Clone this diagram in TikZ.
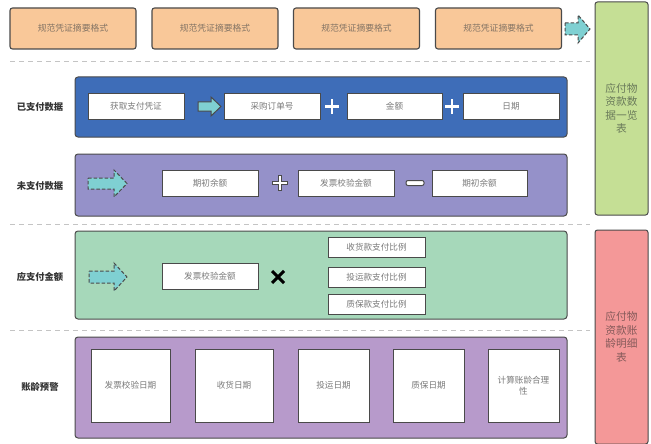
\documentclass[tikz,border=0pt]{standalone}
\usepackage{fontspec}
\setmainfont{Noto Sans CJK SC}
\begin{document}
\begin{tikzpicture}[x=1pt,y=-1pt,
  orangebox/.style={draw=edge,fill=orangef,line width=1.1pt,rounded corners=2.5pt,minimum width=126pt,minimum height=41pt,font=\fontsize{8.8}{10}\selectfont,text=orangetxt},
  panel/.style={draw=edge,line width=1pt,rounded corners=3pt},
  wbox/.style={draw=edge,fill=white,line width=1pt,font=\fontsize{8.6}{11}\selectfont,text=graytxt,inner sep=0pt},
  lbl/.style={font=\fontsize{9.3}{11}\selectfont\bfseries,text=labeltxt},
  sep/.style={draw=sepgray,line width=1pt,dash pattern=on 5pt off 4pt},
  arr/.style={draw=edge,fill=tealf,line width=1pt,line join=miter},
  darr/.style={arr,dash pattern=on 3.5pt off 2pt},
  side/.style={draw=edge,line width=1pt,rounded corners=2.5pt,align=center,font=\fontsize{10.7}{13.5}\selectfont},
]
\definecolor{edge}{HTML}{4A4A4A}
\definecolor{orangef}{HTML}{F9C899}
\definecolor{orangetxt}{HTML}{857565}
\definecolor{graytxt}{HTML}{7A7A7A}
\definecolor{labeltxt}{HTML}{333333}
\definecolor{sepgray}{HTML}{C4C4C4}
\definecolor{tealf}{HTML}{7FD0D2}
\definecolor{bluef}{HTML}{3E6DB8}
\definecolor{purplef}{HTML}{9591C9}
\definecolor{greenf}{HTML}{A6D8BA}
\definecolor{lavf}{HTML}{B79ACB}
\definecolor{sidegreen}{HTML}{C5DF95}
\definecolor{sidered}{HTML}{F49898}
\definecolor{sidetxtg}{HTML}{6A7A5A}
\definecolor{sidetxtr}{HTML}{855A5A}
\useasboundingbox[fill=white] (0,0) rectangle (651,444);

% top orange boxes
\node[orangebox] (o1) at (73,28.5) {规范凭证摘要格式};
\node[orangebox] (o2) at (215,28.5) {规范凭证摘要格式};
\node[orangebox] (o3) at (356.5,28.5) {规范凭证摘要格式};
\node[orangebox] (o4) at (498.5,28.5) {规范凭证摘要格式};
\draw[darr] (565,23) -- (578,23) -- (578,15) -- (590,29) -- (578,43) -- (578,35) -- (565,35) -- cycle;

% separators
\draw[sep] (10,62) -- (590,62);
\draw[sep] (10,224) -- (590,224);
\draw[sep] (10,330) -- (590,330);

% side boxes
\node[side,fill=sidegreen,text=sidetxtg,minimum width=53pt,minimum height=213pt] (sg) at (621.5,108.5) {应付物\\资款数\\据一览\\表};
\node[side,fill=sidered,text=sidetxtr,minimum width=53pt,minimum height=214pt] (sr) at (621.5,337) {应付物\\资款账\\龄明细\\表};

% blue panel
\draw[panel,fill=bluef] (75,77) rectangle (567,137);
\node[lbl] (l1) at (40,106.5) {已支付数据};
\node[wbox,minimum width=96pt,minimum height=25pt] (b1) at (136,106.5) {获取支付凭证};
\draw[arr] (198,102) -- (211,102) -- (211,97) -- (221,106.5) -- (211,116) -- (211,111) -- (198,111) -- cycle;
\node[wbox,minimum width=96pt,minimum height=25pt] (b2) at (272,106.5) {采购订单号};
\draw[white,line width=2.2pt] (325,106.5) -- (339,106.5) (332,99.5) -- (332,113.5);
\node[wbox,minimum width=95pt,minimum height=25pt] (b3) at (394.5,106.5) {金额};
\draw[white,line width=2.2pt] (445,106.5) -- (459,106.5) (452,99.5) -- (452,113.5);
\node[wbox,minimum width=96pt,minimum height=25pt] (b4) at (511,106.5) {日期};

% purple panel
\draw[panel,fill=purplef] (75,154) rectangle (567,216);
\node[lbl] (l2) at (40,185.5) {未支付数据};
\draw[darr] (88,178) -- (114,178) -- (114,170) -- (127,183.5) -- (114,197) -- (114,189) -- (88,189) -- cycle;
\node[wbox,minimum width=96pt,minimum height=26pt] (p1) at (210,183) {期初余额};
\draw[edge,line width=4pt] (272,183) -- (288,183) (280,175) -- (280,191);
\draw[white,line width=2pt] (272.8,183) -- (287.2,183) (280,175.8) -- (280,190.2);
\node[wbox,minimum width=96pt,minimum height=26pt] (p2) at (346,183) {发票校验金额};
\draw[edge,fill=white,line width=1pt,rounded corners=2pt] (406,180.5) rectangle (424,185.5);
\node[wbox,minimum width=95pt,minimum height=26pt] (p3) at (479.5,183) {期初余额};

% green panel
\draw[panel,fill=greenf] (75,231) rectangle (567,319);
\node[lbl] (l3) at (40,277) {应支付金额};
\draw[darr] (89,271) -- (114,271) -- (114,263) -- (127,277) -- (114,291) -- (114,283) -- (89,283) -- cycle;
\node[wbox,minimum width=96pt,minimum height=26pt] (g1) at (210,276) {发票校验金额};
\draw[black,line width=3pt] (272,271) -- (284,283) (284,271) -- (272,283);
\node[wbox,minimum width=97pt,minimum height=20pt] (g2) at (376.5,247) {收货款支付比例};
\node[wbox,minimum width=97pt,minimum height=20pt] (g3) at (376.5,277) {投运款支付比例};
\node[wbox,minimum width=97pt,minimum height=20pt] (g4) at (376.5,304.5) {质保款支付比例};

% lavender panel
\draw[panel,fill=lavf] (75,337) rectangle (567,438);
\node[lbl] (l4) at (40,387) {账龄预警};
\node[wbox,minimum width=79pt,minimum height=73pt] (d1) at (130.5,385.5) {发票校验日期};
\node[wbox,minimum width=78pt,minimum height=73pt] (d2) at (234,385.5) {收货日期};
\node[wbox,minimum width=71pt,minimum height=73pt] (d3) at (333.5,385.5) {投运日期};
\node[wbox,minimum width=71pt,minimum height=73pt] (d4) at (428.5,385.5) {质保日期};
\node[wbox,minimum width=71pt,minimum height=73pt,align=center,text width=62pt] (d5) at (523.5,385.5) {计算账龄合理\\性};
\end{tikzpicture}
\end{document}
